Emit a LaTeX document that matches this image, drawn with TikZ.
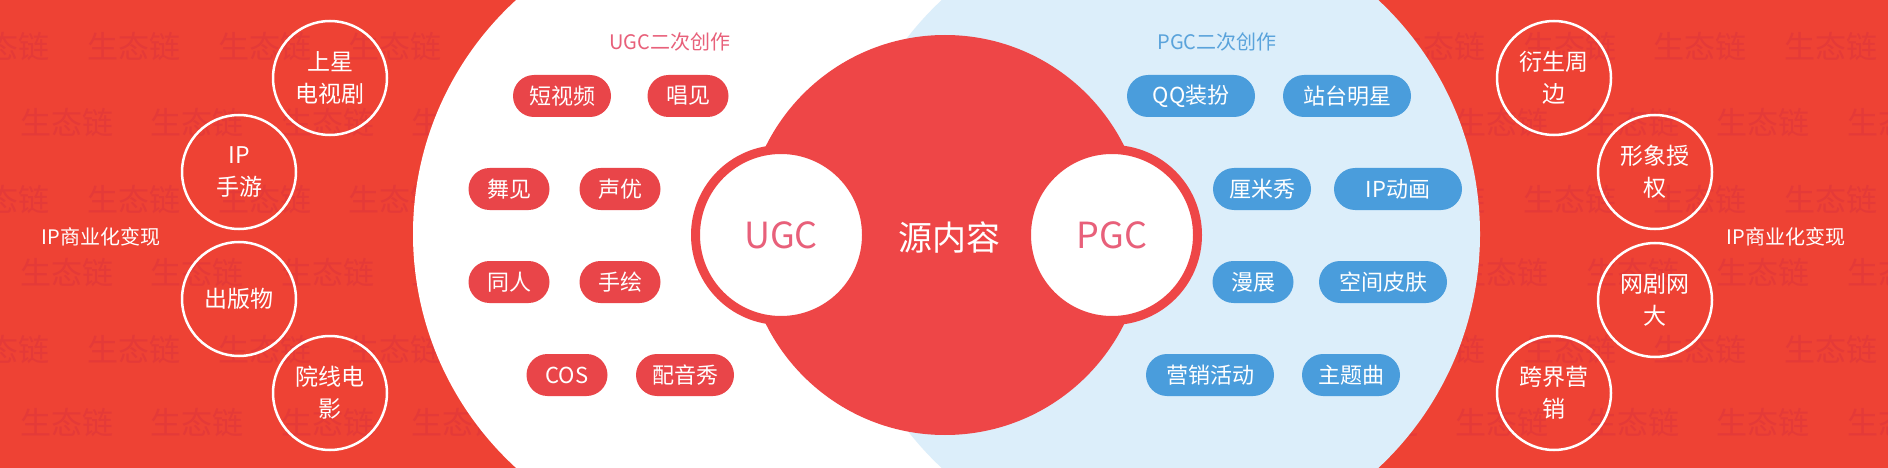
\documentclass[tikz,border=0pt]{standalone}
\usepackage{fontspec}
\setmainfont{Noto Sans CJK SC}
\definecolor{bgred}{HTML}{EE4234}
\definecolor{wmred}{HTML}{E43A38}
\definecolor{corered}{HTML}{EE4647}
\definecolor{pillred}{HTML}{E94549}
\definecolor{lblue}{HTML}{DCEEFA}
\definecolor{pillblue}{HTML}{4A9DDC}
\definecolor{ugcpink}{HTML}{E8607A}
\definecolor{pgcblue}{HTML}{5AA3DB}
\begin{document}
\begin{tikzpicture}[x=1pt,y=-1pt,
  pill/.style={rounded corners=21pt, minimum height=42pt, inner sep=0pt, text=white, font=\fontsize{22}{26}\selectfont},
  rpill/.style={pill, fill=pillred},
  bpill/.style={pill, fill=pillblue},
  wa/.style={minimum width=81pt},
  wb/.style={minimum width=98pt},
  wc/.style={minimum width=128pt},
  ring/.style={circle, draw=white, line width=2.5pt, minimum size=114pt, inner sep=0pt, text=white, align=center, font=\fontsize{23}{32}\selectfont},
  wm/.style={text=wmred, font=\fontsize{31}{31}\selectfont, inner sep=0pt},
  side/.style={text=white, font=\fontsize{20}{24}\selectfont, inner sep=0pt},
  hub/.style={circle, fill=white, draw=corered, line width=9pt, minimum size=171pt, inner sep=0pt, font=\fontsize{36}{40}\selectfont},
  grp/.style={font=\fontsize{20}{24}\selectfont, inner sep=0pt}
]
\useasboundingbox (0,0) rectangle (1888,468);
\fill[bgred] (0,0) rectangle (1888,468);
% watermark (only where the red background shows)
\foreach \yy/\off in {47/3.5,123/66.5,200/3.5,273/66.5,350/3.5,423/66.5}{
  \foreach \k in {0,...,4,10,11,...,14}{
    \node[wm] (wm-\yy-\k) at ({\off+\k*130.5},\yy) {生态链};
  }
}
% big discs
\fill[white] (730,234) circle (317pt);
\fill[lblue] (1160,234) circle (320pt);
\node[circle, fill=corered, minimum size=400pt, inner sep=0pt] (core) at (945,235) {};
\node[text=white, font=\fontsize{34}{38}\selectfont, inner sep=0pt] (coretext) at (949,237) {源内容};
\node[hub, text=ugcpink] (ugc) at (781,235) {UGC};
\node[hub, text=ugcpink] (pgc) at (1112,235) {PGC};
% group titles
\node[grp, text=ugcpink] (ugct) at (670,42) {UGC二次创作};
\node[grp, text=pgcblue] (pgct) at (1217,42) {PGC二次创作};
% UGC pills
\node[rpill, wb] (u1) at (562,96) {短视频};
\node[rpill, wa] (u2) at (688,96) {唱见};
\node[rpill, wa] (u3) at (509,189) {舞见};
\node[rpill, wa] (u4) at (620,189) {声优};
\node[rpill, wa] (u5) at (509,282) {同人};
\node[rpill, wa] (u6) at (620,282) {手绘};
\node[rpill, wa] (u7) at (567,375) {COS};
\node[rpill, wb] (u8) at (685,375) {配音秀};
% PGC pills
\node[bpill, wc] (p1) at (1191,96) {QQ装扮};
\node[bpill, wc] (p2) at (1347,96) {站台明星};
\node[bpill, wb] (p3) at (1262,189) {厘米秀};
\node[bpill, wc] (p4) at (1398,189) {IP动画};
\node[bpill, wa] (p5) at (1253,282) {漫展};
\node[bpill, wc] (p6) at (1383,282) {空间皮肤};
\node[bpill, wc] (p7) at (1210,375) {营销活动};
\node[bpill, wb] (p8) at (1351,375) {主题曲};
% left rings
\node[ring] (l1) at (330,78) {上星\\电视剧};
\node[ring] (l2) at (239,172) {IP\\手游};
\node[ring] (l3) at (239,299) {出版物};
\node[ring] (l4) at (330,393) {院线电\\影};
% right rings
\node[ring] (r1) at (1554,78) {衍生周\\边};
\node[ring] (r2) at (1655,172) {形象授\\权};
\node[ring] (r3) at (1655,300) {网剧网\\大};
\node[ring] (r4) at (1554,393) {跨界营\\销};
% side labels
\node[side] (sl) at (101,237) {IP商业化变现};
\node[side] (sr) at (1786,237) {IP商业化变现};
\end{tikzpicture}
\end{document}
